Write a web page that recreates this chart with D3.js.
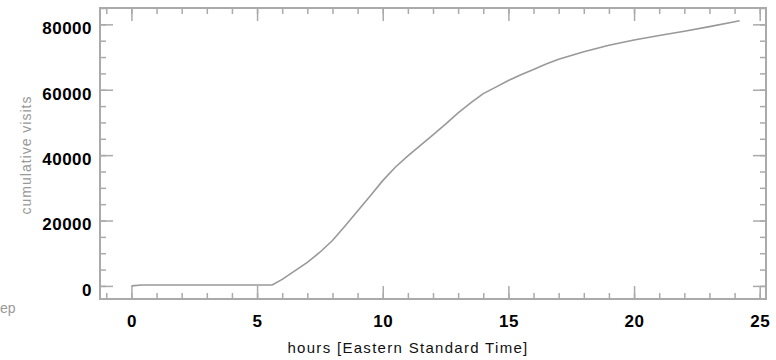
<!DOCTYPE html>
<html>
<head>
<meta charset="utf-8">
<script src="https://cdn.jsdelivr.net/npm/d3@7"></script>
<style>
  body { margin: 0; background: #fff; }
  svg { display: block; }
</style>
</head>
<body>
<div id="chart"></div>
<script>
// cumulative visits over the day (hours EST)
const hours = [0, 0.4, 5.6, 6, 6.5, 7, 7.5, 8, 8.5, 9, 9.5, 10, 10.5, 11, 11.5, 12, 12.5, 13,
    13.5, 14, 14.5, 15, 15.5, 16, 16.5, 17, 17.5, 18, 19, 20, 21, 22, 23, 24, 24.2];
const visits = [0, 300, 300, 2000, 4600, 7200, 10300, 13900, 18300, 22900, 27500, 32200, 36300,
    39800, 43000, 46200, 49500, 52900, 56000, 58800, 60800, 62800, 64600, 66200, 67900, 69300,
    70500, 71600, 73600, 75200, 76600, 77900, 79300, 80800, 81100];

const xTicks = [0, 5, 10, 15, 20, 25];
const yTicks = [0, 20000, 40000, 60000, 80000];

const width = 776;
const height = 360;
const plot = { left: 100, right: 766, top: 8, bottom: 299 };
const axisColor = "#aaa";

const svg = d3.select("#chart")
    .append("svg")
    .attr("width", width).attr("height", height);

svg.append("rect").attr("width", width).attr("height", height).attr("fill", "#fff");

const x = d3.scaleLinear().domain([-1.25, 25.25]).range([plot.left, plot.right]);
const y = d3.scaleLinear().domain([-4000, 85000]).range([plot.bottom, plot.top]);

const minorX = d3.range(-1, 26, 1);
const minorY = d3.range(0, 85001, 5000);

function styleAxis(g) {
    g.select(".domain").remove();
    g.selectAll("line").attr("stroke", axisColor).attr("stroke-width", 1.5);
}

// minor ticks, all four sides
svg.append("g").attr("transform", `translate(0,${plot.bottom})`)
    .call(d3.axisBottom(x).tickValues(minorX).tickSize(-6).tickFormat(""))
    .call(styleAxis);
svg.append("g").attr("transform", `translate(0,${plot.top})`)
    .call(d3.axisTop(x).tickValues(minorX).tickSize(-6).tickFormat(""))
    .call(styleAxis);
svg.append("g").attr("transform", `translate(${plot.left},0)`)
    .call(d3.axisLeft(y).tickValues(minorY).tickSize(-6).tickFormat(""))
    .call(styleAxis);
svg.append("g").attr("transform", `translate(${plot.right},0)`)
    .call(d3.axisRight(y).tickValues(minorY).tickSize(-6).tickFormat(""))
    .call(styleAxis);

// major ticks
const xAxis = svg.append("g").attr("transform", `translate(0,${plot.bottom})`)
    .call(d3.axisBottom(x).tickValues(xTicks).tickSize(-13).tickPadding(16).tickFormat(d3.format("d")))
    .call(styleAxis);
svg.append("g").attr("transform", `translate(0,${plot.top})`)
    .call(d3.axisTop(x).tickValues(xTicks).tickSize(-13).tickFormat(""))
    .call(styleAxis);
const yAxis = svg.append("g").attr("transform", `translate(${plot.left},0)`)
    .call(d3.axisLeft(y).tickValues(yTicks).tickSize(-13).tickPadding(8).tickFormat(d3.format("d")))
    .call(styleAxis);
svg.append("g").attr("transform", `translate(${plot.right},0)`)
    .call(d3.axisRight(y).tickValues(yTicks).tickSize(-13).tickFormat(""))
    .call(styleAxis);

[xAxis, yAxis].forEach(g => g.selectAll("text")
    .attr("fill", "#000")
    .style("font-family", "'Liberation Sans', Arial, sans-serif")
    .style("font-size", "17px")
    .style("font-weight", "bold")
    .style("letter-spacing", "0.5px"));
yAxis.selectAll("text").attr("dy", "0.55em");

// frame
svg.append("rect")
    .attr("x", plot.left).attr("y", plot.top)
    .attr("width", plot.right - plot.left).attr("height", plot.bottom - plot.top)
    .attr("fill", "none").attr("stroke", axisColor).attr("stroke-width", 2);

// data line
const line = d3.line()
    .x((d, i) => x(hours[i]))
    .y(d => y(d));

svg.append("path")
    .datum(visits)
    .attr("d", line)
    .attr("fill", "none")
    .attr("stroke", "#999")
    .attr("stroke-width", 1.6);

// titles
svg.append("text")
    .attr("x", 408).attr("y", 353)
    .attr("text-anchor", "middle")
    .attr("fill", "#111")
    .style("font-family", "'Liberation Sans', Arial, sans-serif")
    .style("font-size", "15px")
    .style("letter-spacing", "1.3px")
    .text("hours [Eastern Standard Time]");

svg.append("text")
    .attr("transform", "translate(31,155) rotate(-90)")
    .attr("text-anchor", "middle")
    .attr("fill", "#999")
    .style("font-family", "'Liberation Sans', Arial, sans-serif")
    .style("font-size", "14px")
    .style("letter-spacing", "1px")
    .text("cumulative visits");

svg.append("text")
    .attr("x", 0).attr("y", 313)
    .attr("fill", "#999")
    .style("font-family", "'Liberation Sans', Arial, sans-serif")
    .style("font-size", "14px")
    .text("ep");
</script>
</body>
</html>
